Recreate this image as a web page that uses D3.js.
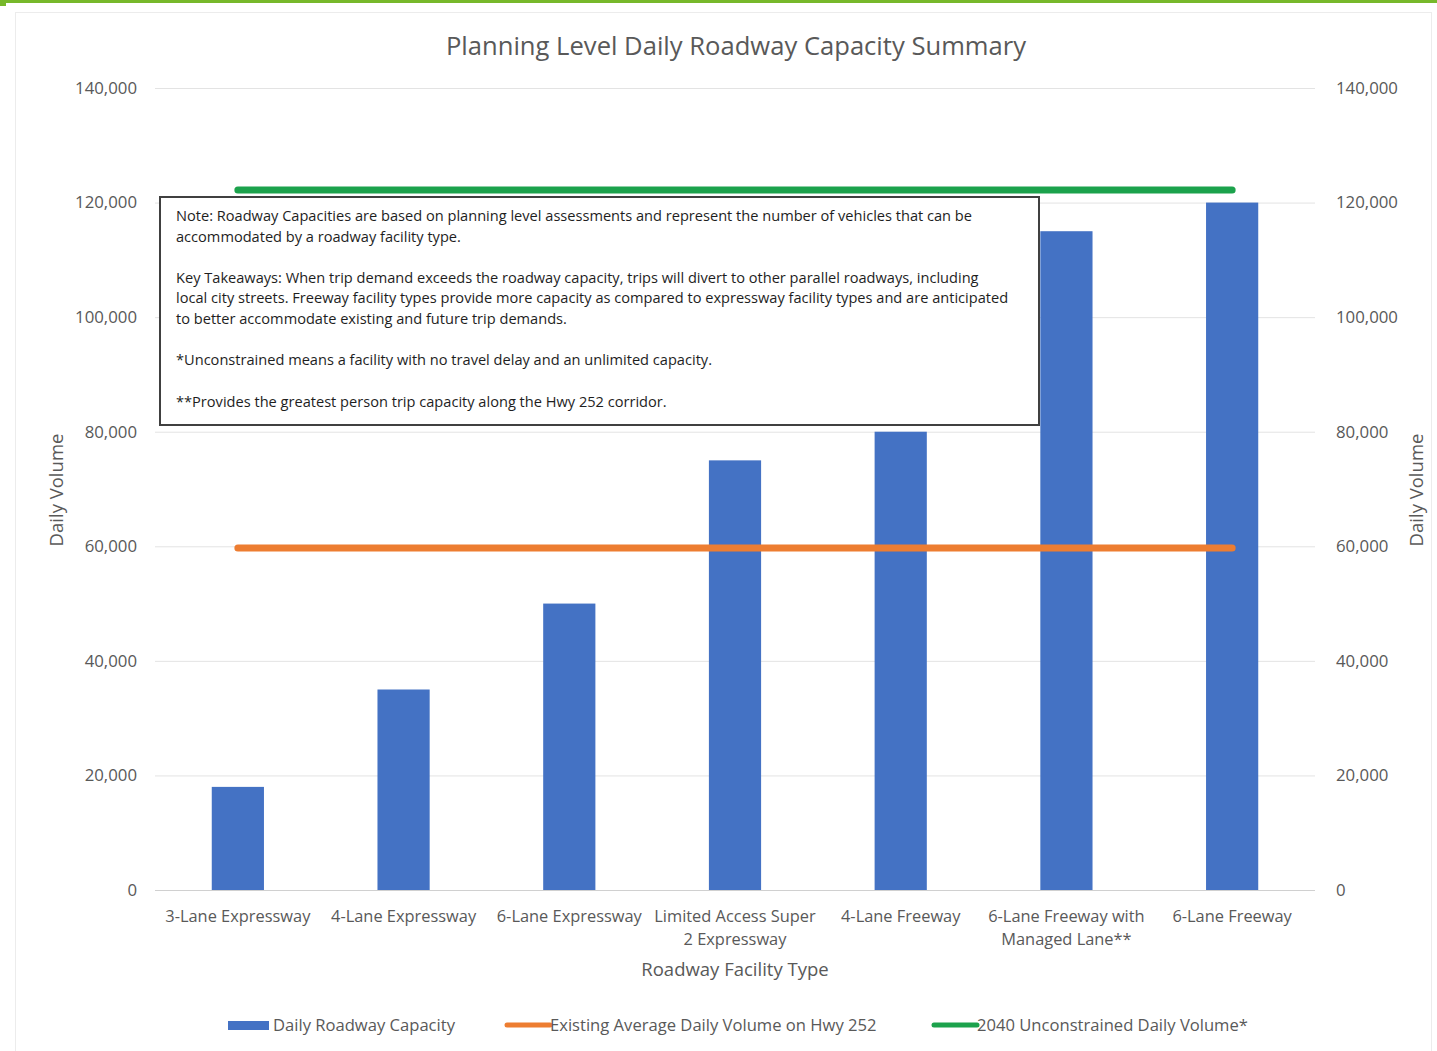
<!DOCTYPE html>
<html><head><meta charset="utf-8">
<script src="https://cdn.jsdelivr.net/npm/d3@7"></script>
<style>
html,body{margin:0;padding:0;background:#fff;}
svg{display:block;font-family:"Open Sans",sans-serif;}
</style></head>
<body>
<svg id="chart" width="1437" height="1051"></svg>
<script>
const categories = [
  ["3-Lane Expressway"],
  ["4-Lane Expressway"],
  ["6-Lane Expressway"],
  ["Limited Access Super", "2 Expressway"],
  ["4-Lane Freeway"],
  ["6-Lane Freeway with", "Managed Lane**"],
  ["6-Lane Freeway"]
];
const capacity = [18000, 35000, 50000, 75000, 80000, 115000, 120000];
const existingVolume = [59700, 59700, 59700, 59700, 59700, 59700, 59700];
const unconstrained2040 = [122200, 122200, 122200, 122200, 122200, 122200, 122200];
const yTicks = [0, 20000, 40000, 60000, 80000, 100000, 120000, 140000];
const seriesNames = ["Daily Roadway Capacity", "Existing Average Daily Volume on Hwy 252", "2040 Unconstrained Daily Volume*"];
const noteLines = [
  "Note: Roadway Capacities are based on planning level assessments and represent the number of vehicles that can be",
  "accommodated by a roadway facility type.",
  "",
  "Key Takeaways: When trip demand exceeds the roadway capacity, trips will divert to other parallel roadways, including",
  "local city streets. Freeway facility types provide more capacity as compared to expressway facility types and are anticipated",
  "to better accommodate existing and future trip demands.",
  "",
  "*Unconstrained means a facility with no travel delay and an unlimited capacity.",
  "",
  "**Provides the greatest person trip capacity along the Hwy 252 corridor."
];

const svg = d3.select("#chart");
const gray = "#595959";
const colors = ["#4472c4", "#ed7d31", "#1ca24c"];

// page decorations
svg.append("rect").attr("x", 0).attr("y", 0).attr("width", 1437).attr("height", 3).attr("fill", "#77b82a");
svg.append("rect").attr("x", 0).attr("y", 0).attr("width", 6).attr("height", 6).attr("fill", "#77b82a");
svg.append("rect").attr("x", 15.5).attr("y", 12.5).attr("width", 1416).attr("height", 1045)
  .attr("fill", "none").attr("stroke", "#ececec").attr("stroke-width", 1);

const x = d3.scaleBand().domain(d3.range(categories.length)).range([155, 1315]).paddingInner(0.685).paddingOuter(0.3425);
const y = d3.scaleLinear().domain([0, 140000]).range([890, 88]);

// gridlines
svg.append("g").selectAll("line").data(yTicks).join("line")
  .attr("x1", 155).attr("x2", 1315)
  .attr("y1", d => y(d) + 0.5).attr("y2", d => y(d) + 0.5)
  .attr("stroke", d => d === 0 ? "#d0d0d0" : "#e3e3e3").attr("stroke-width", 1);

// axes
const fmt = d3.format(",");
const leftAxis = svg.append("g").attr("transform", "translate(137,0)")
  .call(d3.axisLeft(y).tickValues(yTicks).tickFormat(fmt).tickSize(0).tickPadding(0));
const rightAxis = svg.append("g").attr("transform", "translate(1336,0)")
  .call(d3.axisRight(y).tickValues(yTicks).tickFormat(fmt).tickSize(0).tickPadding(0));
[leftAxis, rightAxis].forEach(a => {
  a.select(".domain").remove();
  a.selectAll("text").attr("font-size", 16.8).attr("fill", gray).attr("font-family", "Open Sans, sans-serif");
});

// bars
svg.append("g").selectAll("rect").data(capacity).join("rect")
  .attr("x", (d, i) => x(i)).attr("width", x.bandwidth())
  .attr("y", d => y(d)).attr("height", d => y(0) - y(d))
  .attr("fill", colors[0]);

// lines
const cx = i => x(i) + x.bandwidth() / 2;
const lineGen = d3.line().x((d, i) => cx(i)).y(d => y(d));
svg.append("path").datum(existingVolume).attr("d", lineGen)
  .attr("fill", "none").attr("stroke", colors[1]).attr("stroke-width", 7).attr("stroke-linecap", "round");

// note box
const box = svg.append("g");
box.append("rect").attr("x", 160).attr("y", 197).attr("width", 879).attr("height", 228)
  .attr("fill", "#fff").attr("stroke", "#404040").attr("stroke-width", 2);
const lineYs = [216, 237, 258, 278, 298, 319, 340, 360, 381, 402];
box.selectAll("text").data(noteLines).join("text")
  .attr("x", 176).attr("y", (d, i) => lineYs[i]).attr("dy", "0.35em")
  .attr("font-size", 14.6).attr("fill", "#1e1e1e")
  .text(d => d);

svg.append("path").datum(unconstrained2040).attr("d", lineGen)
  .attr("fill", "none").attr("stroke", colors[2]).attr("stroke-width", 7).attr("stroke-linecap", "round");

// x category labels
const xl = svg.append("g");
categories.forEach((lines, i) => {
  lines.forEach((t, j) => {
    xl.append("text").attr("x", cx(i)).attr("y", 916 + j * 23).attr("dy", "0.35em")
      .attr("text-anchor", "middle").attr("font-size", 16.4).attr("fill", gray).text(t);
  });
});

// titles
svg.append("text").attr("x", 736).attr("y", 46).attr("dy", "0.35em").attr("text-anchor", "middle")
  .attr("font-size", 25.6).attr("fill", gray).text("Planning Level Daily Roadway Capacity Summary");
svg.append("text").attr("x", 735).attr("y", 970).attr("dy", "0.35em").attr("text-anchor", "middle")
  .attr("font-size", 18.5).attr("fill", gray).text("Roadway Facility Type");
svg.append("text").attr("transform", "translate(57,490) rotate(-90)").attr("dy", "0.35em").attr("text-anchor", "middle")
  .attr("font-size", 18.5).attr("fill", gray).text("Daily Volume");
svg.append("text").attr("transform", "translate(1417,490) rotate(-90)").attr("dy", "0.35em").attr("text-anchor", "middle")
  .attr("font-size", 18.5).attr("fill", gray).text("Daily Volume");

// legend
const legendItems = [
  {name: seriesNames[0], color: colors[0], type: "rect", x: 228},
  {name: seriesNames[1], color: colors[1], type: "line", x: 505},
  {name: seriesNames[2], color: colors[2], type: "line", x: 932}
];
const lg = svg.append("g");
legendItems.forEach(it => {
  if (it.type === "rect") {
    lg.append("rect").attr("x", it.x).attr("y", 1021).attr("width", 41).attr("height", 9).attr("fill", it.color);
  } else {
    lg.append("line").attr("x1", it.x + 2).attr("x2", it.x + 45).attr("y1", 1025).attr("y2", 1025)
      .attr("stroke", it.color).attr("stroke-width", 5).attr("stroke-linecap", "round");
  }
  lg.append("text").attr("x", it.x + 45).attr("y", 1025).attr("dy", "0.35em")
    .attr("font-size", 16.6).attr("fill", gray).text(it.name);
});
</script>
</body></html>
